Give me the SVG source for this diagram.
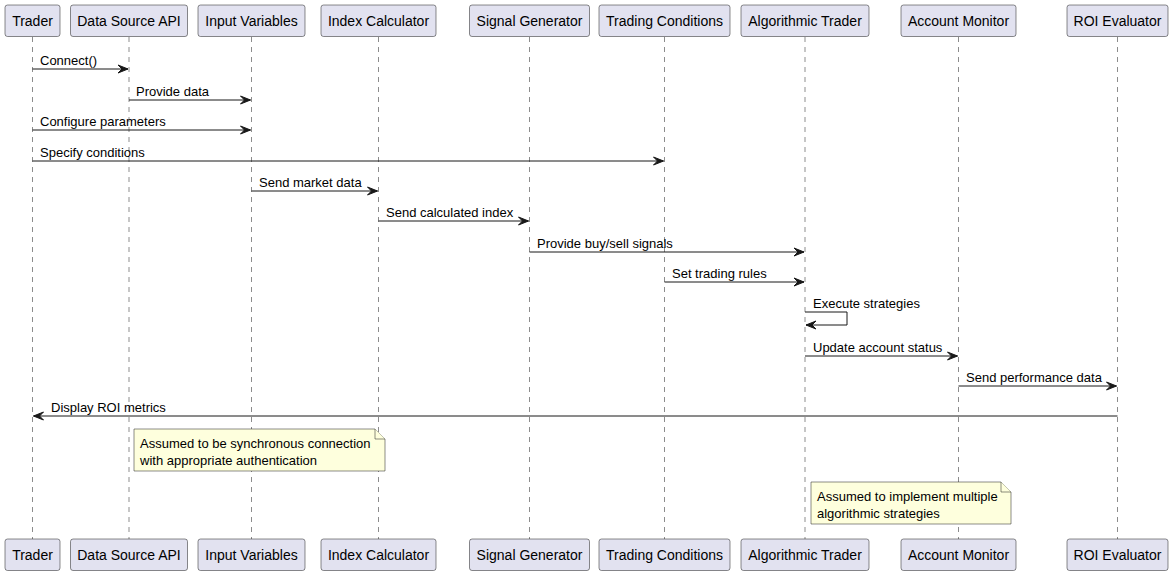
<svg xmlns="http://www.w3.org/2000/svg" width="1174" height="575" viewBox="0 0 1174 575">
<style>
.box{fill:#E2E2F0;stroke:#181818;stroke-width:0.5}
.pt{font-family:"Liberation Sans",Arial,sans-serif;font-size:14px;fill:#000;text-anchor:middle}
.life{stroke:#181818;stroke-width:0.5;stroke-dasharray:5,5;fill:none}
.msg{stroke:#181818;stroke-width:1;fill:none}
.head{fill:#181818;stroke:#181818;stroke-width:1}
.mt{font-family:"Liberation Sans",Arial,sans-serif;font-size:13px;fill:#000}
.note{fill:#FEFFDD;stroke:#181818;stroke-width:0.5}
</style>
<rect width="1174" height="575" fill="#FFFFFF"/>
<g id="lifelines">
<line class="life" x1="32.5" y1="37" x2="32.5" y2="539"/>
<line class="life" x1="129" y1="37" x2="129" y2="539"/>
<line class="life" x1="251.5" y1="37" x2="251.5" y2="539"/>
<line class="life" x1="378.5" y1="37" x2="378.5" y2="539"/>
<line class="life" x1="529.5" y1="37" x2="529.5" y2="539"/>
<line class="life" x1="664.5" y1="37" x2="664.5" y2="539"/>
<line class="life" x1="805" y1="37" x2="805" y2="539"/>
<line class="life" x1="958.5" y1="37" x2="958.5" y2="539"/>
<line class="life" x1="1117.5" y1="37" x2="1117.5" y2="539"/>
</g>
<g id="trader"><rect class="box" x="5" y="5" width="55" height="31.5" rx="2.5"/><text class="pt" x="32.5" y="26">Trader</text><rect class="box" x="5" y="539" width="55" height="31.5" rx="2.5"/><text class="pt" x="32.5" y="560">Trader</text></g>
<g id="datasource"><rect class="box" x="70.5" y="5" width="117" height="31.5" rx="2.5"/><text class="pt" x="129" y="26">Data Source API</text><rect class="box" x="70.5" y="539" width="117" height="31.5" rx="2.5"/><text class="pt" x="129" y="560">Data Source API</text></g>
<g id="inputvars"><rect class="box" x="198" y="5" width="107" height="31.5" rx="2.5"/><text class="pt" x="251.5" y="26">Input Variables</text><rect class="box" x="198" y="539" width="107" height="31.5" rx="2.5"/><text class="pt" x="251.5" y="560">Input Variables</text></g>
<g id="indexcalc"><rect class="box" x="321" y="5" width="115" height="31.5" rx="2.5"/><text class="pt" x="378.5" y="26">Index Calculator</text><rect class="box" x="321" y="539" width="115" height="31.5" rx="2.5"/><text class="pt" x="378.5" y="560">Index Calculator</text></g>
<g id="signalgen"><rect class="box" x="469.5" y="5" width="120" height="31.5" rx="2.5"/><text class="pt" x="529.5" y="26">Signal Generator</text><rect class="box" x="469.5" y="539" width="120" height="31.5" rx="2.5"/><text class="pt" x="529.5" y="560">Signal Generator</text></g>
<g id="tradingcond"><rect class="box" x="599" y="5" width="131" height="31.5" rx="2.5"/><text class="pt" x="664.5" y="26">Trading Conditions</text><rect class="box" x="599" y="539" width="131" height="31.5" rx="2.5"/><text class="pt" x="664.5" y="560">Trading Conditions</text></g>
<g id="algotrader"><rect class="box" x="741" y="5" width="128" height="31.5" rx="2.5"/><text class="pt" x="805" y="26">Algorithmic Trader</text><rect class="box" x="741" y="539" width="128" height="31.5" rx="2.5"/><text class="pt" x="805" y="560">Algorithmic Trader</text></g>
<g id="accountmon"><rect class="box" x="901" y="5" width="115" height="31.5" rx="2.5"/><text class="pt" x="958.5" y="26">Account Monitor</text><rect class="box" x="901" y="539" width="115" height="31.5" rx="2.5"/><text class="pt" x="958.5" y="560">Account Monitor</text></g>
<g id="roieval"><rect class="box" x="1067" y="5" width="101" height="31.5" rx="2.5"/><text class="pt" x="1117.5" y="26">ROI Evaluator</text><rect class="box" x="1067" y="539" width="101" height="31.5" rx="2.5"/><text class="pt" x="1117.5" y="560">ROI Evaluator</text></g>
<g id="connectors">
<line class="msg" x1="32.5" y1="69" x2="128" y2="69"/><polygon class="head" points="118,65 128,69 118,73 122,69"/><text class="mt" x="40" y="64.5">Connect()</text>
<line class="msg" x1="129" y1="100" x2="250.5" y2="100"/><polygon class="head" points="240.5,96 250.5,100 240.5,104 244.5,100"/><text class="mt" x="136" y="95.5">Provide data</text>
<line class="msg" x1="32.5" y1="130" x2="250.5" y2="130"/><polygon class="head" points="240.5,126 250.5,130 240.5,134 244.5,130"/><text class="mt" x="40" y="125.5">Configure parameters</text>
<line class="msg" x1="32.5" y1="161" x2="663.5" y2="161"/><polygon class="head" points="653.5,157 663.5,161 653.5,165 657.5,161"/><text class="mt" x="40" y="156.5">Specify conditions</text>
<line class="msg" x1="251.5" y1="191" x2="377.5" y2="191"/><polygon class="head" points="367.5,187 377.5,191 367.5,195 371.5,191"/><text class="mt" x="259" y="186.5">Send market data</text>
<line class="msg" x1="378.5" y1="221" x2="528.5" y2="221"/><polygon class="head" points="518.5,217 528.5,221 518.5,225 522.5,221"/><text class="mt" x="386" y="216.5">Send calculated index</text>
<line class="msg" x1="529.5" y1="252" x2="804" y2="252"/><polygon class="head" points="794,248 804,252 794,256 798,252"/><text class="mt" x="537" y="247.5">Provide buy/sell signals</text>
<line class="msg" x1="664.5" y1="282" x2="804" y2="282"/><polygon class="head" points="794,278 804,282 794,286 798,282"/><text class="mt" x="672" y="277.5">Set trading rules</text>
<path class="msg" d="M805,312 H847 V325 H806"/><polygon class="head" points="816,321 806,325 816,329 812,325"/><text class="mt" x="813" y="307.5">Execute strategies</text>
<line class="msg" x1="805" y1="356" x2="957.5" y2="356"/><polygon class="head" points="947.5,352 957.5,356 947.5,360 951.5,356"/><text class="mt" x="813" y="351.5">Update account status</text>
<line class="msg" x1="958.5" y1="386" x2="1116.5" y2="386"/><polygon class="head" points="1106.5,382 1116.5,386 1106.5,390 1110.5,386"/><text class="mt" x="966" y="381.5">Send performance data</text>
<line class="msg" x1="1117.5" y1="416" x2="33.5" y2="416"/><polygon class="head" points="43.5,412 33.5,416 43.5,420 39.5,416"/><text class="mt" x="51" y="411.5">Display ROI metrics</text>
</g>
<g id="note1">
<path class="note" d="M134,429 H375 L385,439 V471 H134 Z"/>
<path class="note" d="M375,429 V439 H385"/>
<text class="mt" x="140" y="447.5">Assumed to be synchronous connection</text>
<text class="mt" x="140" y="464.5">with appropriate authentication</text>
</g>
<g id="note2">
<path class="note" d="M811,482 H1001 L1011,492 V524 H811 Z"/>
<path class="note" d="M1001,482 V492 H1011"/>
<text class="mt" x="817" y="500.5">Assumed to implement multiple</text>
<text class="mt" x="817" y="517.5">algorithmic strategies</text>
</g>
</svg>
